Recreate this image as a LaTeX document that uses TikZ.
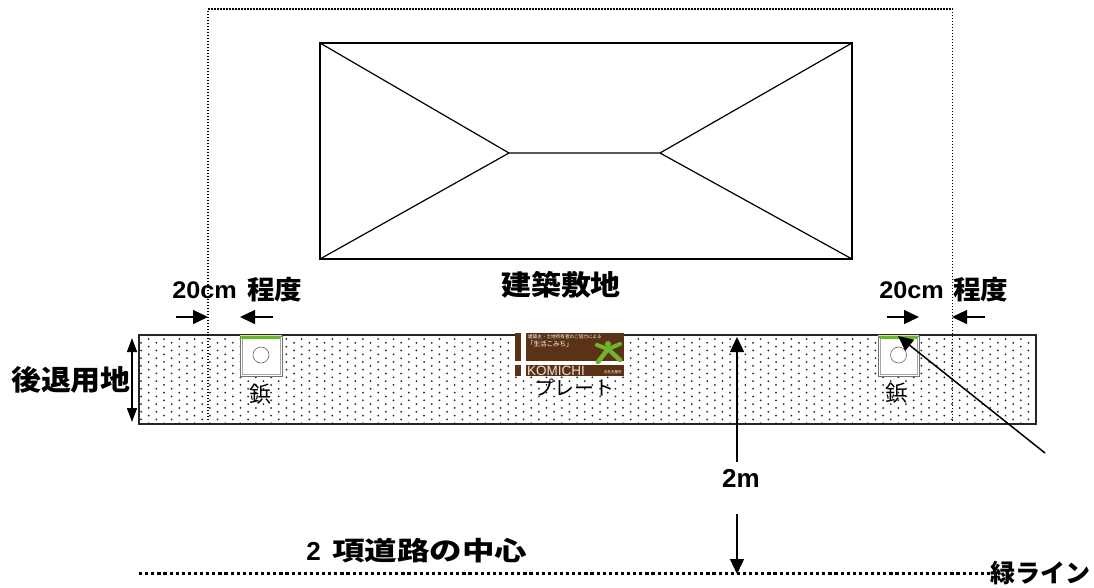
\documentclass[tikz,border=0pt]{standalone}
\usepackage{graphicx}
\usepackage{fontspec}
\setmainfont{Noto Sans CJK JP}
\newfontfamily\lat{Liberation Sans}
\usetikzlibrary{arrows.meta}
\definecolor{plate}{HTML}{5B3216}
\definecolor{lime}{HTML}{6CB52D}
\newcommand{\sz}[1]{\fontsize{#1}{#1}\selectfont}
\tikzset{
  x=1pt,y=-1pt,
  arr/.style={draw=black,line width=1.3pt,-{Triangle[length=15pt,width=14pt]}},
  darr/.style={draw=black,line width=1.3pt,{Triangle[length=14pt,width=10pt]}-{Triangle[length=14pt,width=10pt]}},
  lab/.style={inner sep=0pt,font=\bfseries\sz{26}},
  sm/.style={inner sep=0pt,font=\sz{22}},
}
\begin{document}
\begin{tikzpicture}
\useasboundingbox (0,0) rectangle (1094,587);
\fill[white] (0,0) rectangle (1094,587);
% setback strip
\coordinate (sA) at (139,335); \coordinate (sB) at (1036,424);
\foreach \r in {0,...,22}{
  \pgfmathsetmacro{\yy}{339+\r*3.83}
  \pgfmathsetmacro{\off}{mod(\r,2)*(-7.65)}
  \foreach \c in {0,...,58}{
    \pgfmathsetmacro{\xx}{148.7+\off+\c*15.3}
    \ifdim\xx pt<1034pt \fill[black!85] (\xx,\yy) circle (1pt);\fi
  }
}
\draw[line width=1.5pt,draw=black!85] (sA) rectangle (sB);
% site boundary
\coordinate (b1) at (208,420); \coordinate (b2) at (208,9);
\coordinate (b3) at (952.5,9); \coordinate (b4) at (952.5,420);
\draw[draw=black,line width=1.5pt,dash pattern=on 1.5pt off 1.5pt] (b1)--(b2)--(b3)--(b4);
% house
\coordinate (h1) at (320,43); \coordinate (h2) at (852,43);
\coordinate (h3) at (852,259); \coordinate (h4) at (320,259);
\coordinate (r1) at (509,153); \coordinate (r2) at (660,153);
\draw[line width=1.2pt] (h1) rectangle (h3);
\draw[line width=1.2pt] (h1)--(r1)--(h4) (r1)--(r2) (h2)--(r2)--(h3);
% rivets
\foreach \n/\xa/\xb in {L/240/282,R/878/919}{
  \pgfmathsetmacro{\xm}{(\xa+\xb)/2}
  \fill[white] (\xa,335) rectangle (\xb,376);
  \draw[draw=black!55,line width=0.7pt] (\xa,336) rectangle (\xb,376);
  \draw[draw=black!35,line width=0.7pt] (\xa+2,338) -- (\xa+2,374) -- (\xb-2,374) -- (\xb-2,338);
  \draw[draw=black!60,line width=0.6pt] (\xm,355) circle (8pt);
  \fill[lime] (\xa,335.5) -- (\xb,335.5) -- (\xb-2,339) -- (\xa+2,339) -- cycle;
}
\node[sm] (tetsuL) at (260,394) {鋲};
\node[sm] (tetsuR) at (896,393) {鋲};
% plate
\fill[plate] (515,333) rectangle (624,376);
\fill[white] (515,361) rectangle (624,365);
\fill[white] (521,333) rectangle (526,376);
\node[inner sep=0pt,text=white,font=\sz{4.6},anchor=west] (p1) at (528,337) {建築主・土地所有者のご協力による};
\node[inner sep=0pt,text=white,font=\sz{6.5},anchor=west] (p2) at (527,344.5) {「生活こみち」};
\node[inner sep=0pt,text=white!85!plate,font=\lat\sz{13.5},anchor=west] (p3) at (527,371) {KOMICHI};
\node[inner sep=0pt,text=white,font=\sz{3.6},anchor=east] (p4) at (622,372) {北名古屋市};
% green figure on plate
\draw[lime,line width=4pt,line cap=round] (597,345)--(608,349)--(620,344);
\draw[lime,line width=4.5pt,line cap=round] (608,349)--(598,362);
\draw[lime,line width=4.5pt,line cap=round] (608,349)--(620,360);
\fill[lime] (608,344) circle (3pt);
\node[inner sep=0pt,font=\sz{20}] (plabel) at (574,388) {プレート};
% labels
\node[lab,font=\bfseries\sz{28}] (kenchiku) at (561,285) {\scalebox{1.07}[1]{建築敷地}};
\node[lab,anchor=east,font=\bfseries\lat\sz{24}] (dl1) at (237,290) {\scalebox{1.05}[1]{20cm}};
\node[lab,anchor=west,font=\bfseries\sz{26}] (dl2) at (247,290) {\scalebox{1.06}[1]{程度}};
\node[lab,anchor=east,font=\bfseries\lat\sz{24}] (dr1) at (944,290) {\scalebox{1.05}[1]{20cm}};
\node[lab,anchor=west,font=\bfseries\sz{26}] (dr2) at (953,290) {\scalebox{1.06}[1]{程度}};
\node[lab,font=\bfseries\sz{28}] (kotai) at (71,380) {\scalebox{1.07}[1]{後退用地}};
\node[lab,font=\bfseries\lat\sz{26}] (twom) at (741,478) {2m};
\node[lab,anchor=east,font=\bfseries\lat\sz{26}] (c2lab) at (321,551) {2};
\node[lab,anchor=west,font=\bfseries\sz{26}] (center) at (332,551) {\scalebox{1.25}[1]{項道路の中心}};
\node[lab,anchor=east,font=\bfseries\sz{25}] (midori) at (1091,573) {緑ライン};
% 20cm arrows
\coordinate (a1) at (176,317); \coordinate (a2) at (208,317);
\coordinate (a3) at (273,317); \coordinate (a4) at (240,317);
\coordinate (a5) at (887,317); \coordinate (a6) at (919,317);
\coordinate (a7) at (985,317); \coordinate (a8) at (952,317);
\draw[arr] (a1)--(a2); \draw[arr] (a3)--(a4);
\draw[arr] (a5)--(a6); \draw[arr] (a7)--(a8);
% setback arrow
\coordinate (s1) at (132,338); \coordinate (s2) at (132,422);
\draw[darr] (s1)--(s2);
% 2m
\coordinate (m1) at (737,462); \coordinate (m2) at (737,337);
\coordinate (m3) at (737,514); \coordinate (m4) at (737,574);
\draw[arr] (m1)--(m2); \draw[arr] (m3)--(m4);
% pointer
\coordinate (q1) at (1045,453); \coordinate (q2) at (898,336);
\draw[arr,line width=1.5pt] (q1)--(q2);
% centre line
\coordinate (c1) at (139,573); \coordinate (c2) at (992,573);
\draw[draw=black,line width=3pt,dash pattern=on 3.2pt off 2.9pt] (c1)--(c2);
\end{tikzpicture}
\end{document}
